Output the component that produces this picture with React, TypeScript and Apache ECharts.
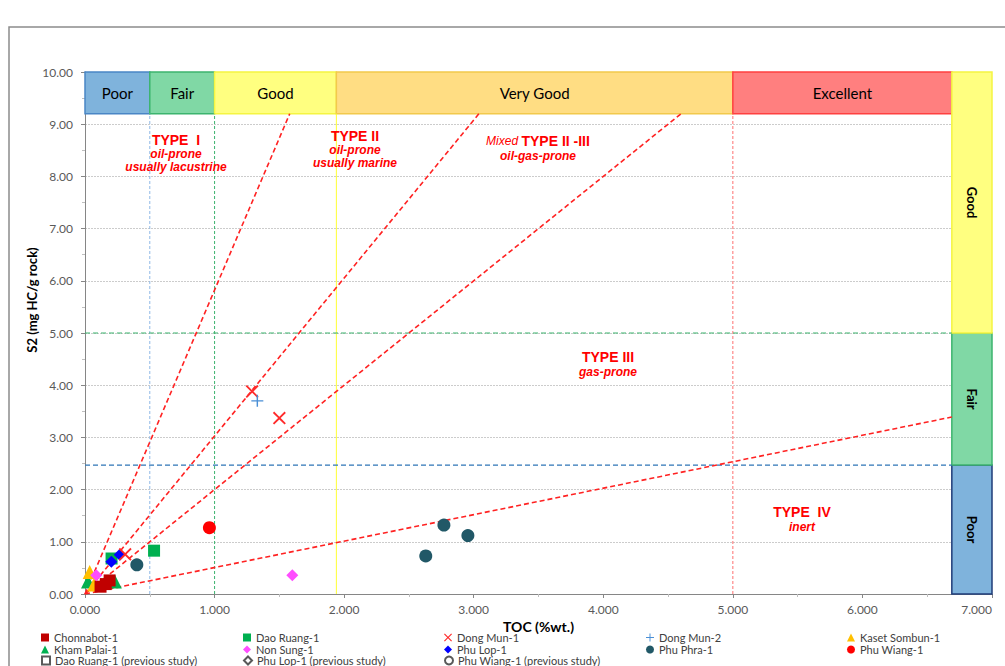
import { useEffect, useRef } from "react";
import * as echarts from "echarts";

// Axis ranges
const TOC_MIN = 0;
const TOC_MAX = 7;
const S2_MIN = 0;
const S2_MAX = 10;

// Generative-potential bands along the TOC axis (top strip)
const tocBandNames = ["Poor", "Fair", "Good", "Very Good", "Excellent"];
const tocBandEdges = [0, 0.5, 1.0, 1.94, 5.0, 6.69];
const tocBandS2 = [9.2, 10];

// Generative-potential bands along the S2 axis (right column)
const s2BandNames = ["Poor", "Fair", "Good"];
const s2BandEdges = [0, 2.47, 5.0, 10];
const s2BandToc = [6.69, 7.0];

// Cut-off guide lines
const tocCutoffs = [0.5, 1.0, 1.94, 5.0];
const s2Cutoffs = [2.47, 5.0];

// Kerogen-type boundary lines (start at the origin)
const kerogenLineEnds = [
  [1.58, 9.2],
  [3.04, 9.2],
  [4.6, 9.2],
  [6.69, 3.39],
];

// Samples: [TOC (%wt.), S2 (mg HC/g rock)]
const chonnabot1 = [[0.12, 0.14], [0.16, 0.19], [0.19, 0.26]];
const daoRuang1 = [[0.205, 0.68], [0.533, 0.83]];
const dongMun1 = [[0.31, 0.76], [1.29, 3.88], [1.5, 3.37]];
const dongMun2 = [[1.33, 3.7]];
const kasetSombun1 = [[0.07, 0.18], [0.036, 0.42]];
const khamPalai1 = [[0.023, 0.24], [0.23, 0.24]];
const nonSung1 = [[0.087, 0.36], [1.6, 0.36]];
const phuLop1 = [[0.203, 0.62], [0.268, 0.75]];
const phuPhra1 = [[0.4, 0.56], [2.63, 0.73], [2.77, 1.32], [2.955, 1.12]];
const phuWiang1 = [[0.96, 1.27]];
const daoRuang1Prev: number[][] = [];
const phuLop1Prev: number[][] = [];
const phuWiang1Prev: number[][] = [];

const legendNames = [
  "Chonnabot-1", "Dao Ruang-1", "Dong Mun-1", "Dong Mun-2", "Kaset Sombun-1",
  "Kham Palai-1", "Non Sung-1", "Phu Lop-1", "Phu Phra-1", "Phu Wiang-1",
  "Dao Ruang-1 (previous study)", "Phu Lop-1 (previous study)", "Phu Wiang-1 (previous study)",
];

const CROSS = "path://M0,1L1,0L5,4L9,0L10,1L6,5L10,9L9,10L5,6L1,10L0,9L4,5Z";
const PLUS = "path://M4.4,0H5.6V4.4H10V5.6H5.6V10H4.4V5.6H0V4.4H4.4Z";

const FONT = "Lato, 'Noto Sans', sans-serif";
const ARIAL = "'Liberation Sans', Arial, sans-serif";

function buildOption() {
  const tocBandFill = ["#7fb3dc", "#80d8a5", "#ffff80", "#ffdd83", "#ff7f7f"];
  const tocBandLine = ["#4a86c5", "#3cb46e", "#f5f542", "#f2c94c", "#ff4040"];
  const s2BandFill = ["#7fb3dc", "#80d8a5", "#ffff80"];
  const s2BandLine = ["#1f3c78", "#3cb46e", "#f5f542"];
  const tocCutoffColors = ["#8fb8e6", "#3cb46e", "#ffff33", "#ff7070"];
  const tocCutoffTypes: any[] = [[3, 2], [3, 2], "solid", [3, 2]];
  const s2CutoffColors = ["#2e75b6", "#3cb46e"];

  const topAreas = tocBandNames.map((name, i) => [
    {
      name,
      xAxis: tocBandEdges[i],
      yAxis: tocBandS2[0],
      itemStyle: { color: tocBandFill[i], borderColor: tocBandLine[i], borderWidth: 1.5 },
    },
    { xAxis: tocBandEdges[i + 1], yAxis: tocBandS2[1] },
  ]);

  const sideAreas = s2BandNames.map((name, i) => [
    {
      name,
      xAxis: s2BandToc[0],
      yAxis: s2BandEdges[i],
      itemStyle: { color: s2BandFill[i], borderColor: s2BandLine[i], borderWidth: 1.5 },
      label: { rotate: -90, fontWeight: "bold", fontSize: 13 },
    },
    { xAxis: s2BandToc[1], yAxis: s2BandEdges[i + 1] },
  ]);

  // Each guide line is a two-point line series
  const guide = (name: string, data: number[][], color: string, type: any, width: number) => ({
    name,
    type: "line",
    data,
    symbol: "none",
    silent: true,
    z: 2,
    lineStyle: { color, type, width },
  });

  const verticalGuides = tocCutoffs.map((x, i) =>
    guide("toc-cutoff-" + i, [[x, S2_MIN], [x, tocBandS2[0]]], tocCutoffColors[i], tocCutoffTypes[i], 1)
  );
  const horizontalGuides = s2Cutoffs.map((y, i) =>
    guide("s2-cutoff-" + i, [[TOC_MIN, y], [s2BandToc[0], y]], s2CutoffColors[i], [5, 3], 1.2)
  );
  const kerogenSeries = kerogenLineEnds.map((end, i) =>
    guide("kerogen-" + i, [[0, 0], end], "#ff2222", [5, 3], 1.6)
  );

  const pointSeries = (name: string, data: number[][], symbol: string, size: number, color: string, extra: any = {}) => ({
    name,
    type: "scatter",
    data,
    symbol,
    symbolSize: size,
    z: 5,
    itemStyle: { color, opacity: 1, ...extra },
  });

  const hollow = { borderColor: "#595959", borderWidth: 0.8 };

  const series: any[] = [
    {
      name: "zones",
      type: "scatter",
      data: [],
      z: 1,
      silent: true,
      markArea: {
        silent: true,
        label: { show: true, position: "inside", color: "#000", fontSize: 15, fontFamily: FONT },
        data: [...topAreas, ...sideAreas],
      },
    },
    ...verticalGuides,
    ...horizontalGuides,
    ...kerogenSeries,
    pointSeries("Kham Palai-1", khamPalai1, "triangle", 14, "#00b050"),
    pointSeries("Kaset Sombun-1", kasetSombun1, "triangle", 14, "#ffc000"),
    pointSeries("Chonnabot-1", chonnabot1, "rect", 12, "#c00000"),
    pointSeries("Dao Ruang-1", daoRuang1, "rect", 12, "#00b050"),
    pointSeries("Non Sung-1", nonSung1, "diamond", 12, "#ff4dff"),
    pointSeries("Phu Lop-1", phuLop1, "diamond", 12, "#0000ff"),
    pointSeries("Phu Phra-1", phuPhra1, "circle", 13, "#215867"),
    pointSeries("Phu Wiang-1", phuWiang1, "circle", 13, "#ff0000"),
    pointSeries("Dong Mun-1", dongMun1, CROSS, 13, "#ff2a2a"),
    pointSeries("Dong Mun-2", dongMun2, PLUS, 12, "#4a8fd6"),
    pointSeries("Dao Ruang-1 (previous study)", daoRuang1Prev, "rect", 12, "#ffffff", hollow),
    pointSeries("Phu Lop-1 (previous study)", phuLop1Prev, "diamond", 12, "#ffffff", hollow),
    pointSeries("Phu Wiang-1 (previous study)", phuWiang1Prev, "circle", 12, "#ffffff", hollow),
  ];

  // Legend laid out as a 5-column grid
  const colX = [41, 243, 444, 646, 847];
  const rowY = [632, 644, 655];
  const legend = legendNames.map((name, i) => ({
    data: [name],
    left: colX[i % 5],
    top: rowY[Math.floor(i / 5)],
    padding: 0,
    itemWidth: 8,
    itemHeight: 8,
    selectedMode: false,
    textStyle: { fontFamily: FONT, fontSize: 11, color: "#404040" },
  }));

  const red = "#ff0000";
  const head = (text: string, x: number, y: number) => ({
    type: "text",
    x,
    y,
    silent: true,
    z: 20,
    style: { text, fill: red, font: `bold 14px ${ARIAL}`, textAlign: "center", textVerticalAlign: "middle" },
  });
  const sub = (text: string, x: number, y: number) => ({
    type: "text",
    x,
    y,
    silent: true,
    z: 20,
    style: { text, fill: red, font: `italic bold 12px ${ARIAL}`, textAlign: "center", textVerticalAlign: "middle" },
  });

  const graphic: any[] = [
    // chart frame
    {
      type: "polyline",
      silent: true,
      shape: { points: [[9, 700], [9, 27], [1010, 27]] },
      style: { stroke: "#8c8c8c", lineWidth: 1.5, fill: "none" },
    },
    head("TYPE  I", 176, 140),
    sub("oil-prone", 176, 154),
    sub("usually lacustrine", 176, 167),
    head("TYPE II", 355, 136),
    sub("oil-prone", 355, 150),
    sub("usually marine", 355, 163),
    {
      type: "text",
      x: 538,
      y: 141,
      silent: true,
      z: 20,
      style: {
        text: "{a|Mixed }{b|TYPE II -III}",
        textAlign: "center",
        textVerticalAlign: "middle",
        rich: {
          a: { fill: red, font: `italic 12px ${ARIAL}` },
          b: { fill: red, font: `bold 14px ${ARIAL}` },
        },
      },
    },
    sub("oil-gas-prone", 538, 156),
    head("TYPE III", 608, 357),
    sub("gas-prone", 608, 372),
    head("TYPE  IV", 802, 512),
    sub("inert", 802, 527),
    {
      type: "text",
      x: 32,
      y: 300,
      rotation: Math.PI / 2,
      silent: true,
      style: {
        text: "S2 (mg HC/g rock)",
        fill: "#000",
        font: `bold 13px ${FONT}`,
        textAlign: "center",
        textVerticalAlign: "middle",
      },
    },
  ];

  return {
    animation: false,
    backgroundColor: "#ffffff",
    grid: { left: 85, right: 13, top: 72, bottom: 72, outerBoundsMode: "none" },
    xAxis: {
      type: "value",
      min: TOC_MIN,
      max: TOC_MAX,
      interval: 1,
      name: "TOC (%wt.)",
      nameLocation: "middle",
      nameGap: 22,
      nameTextStyle: { fontFamily: FONT, fontWeight: "bold", fontSize: 14, color: "#000" },
      axisLine: { lineStyle: { color: "#868686" } },
      axisTick: { show: true, length: 4, lineStyle: { color: "#868686" } },
      minorTick: { show: true, splitNumber: 2, length: 3, lineStyle: { color: "#bfbfbf" } },
      axisLabel: {
        formatter: (v: number) => v.toFixed(3),
        fontFamily: FONT,
        fontSize: 12,
        color: "#595959",
        margin: 9,
        alignMaxLabel: "right",
      },
      splitLine: { show: false },
    },
    yAxis: {
      type: "value",
      min: S2_MIN,
      max: S2_MAX,
      interval: 1,
      axisLine: { show: true, lineStyle: { color: "#868686" } },
      axisTick: { show: true, length: 4, lineStyle: { color: "#868686" } },
      minorTick: { show: true, splitNumber: 2, length: 3, lineStyle: { color: "#bfbfbf" } },
      axisLabel: {
        formatter: (v: number) => v.toFixed(2),
        fontFamily: FONT,
        fontSize: 12,
        color: "#595959",
        margin: 12,
      },
      splitLine: { show: true, lineStyle: { color: "#cccccc", type: [2, 1], width: 1 } },
    },
    legend,
    series,
    graphic,
  };
}

export default function App() {
  const ref = useRef<HTMLDivElement>(null);
  useEffect(() => {
    if (!ref.current) return;
    const chart = echarts.init(ref.current, undefined, { renderer: "svg" });
    chart.setOption(buildOption() as any);
    return () => chart.dispose();
  }, []);
  return (
    <div
      ref={ref}
      style={{ position: "absolute", left: 0, top: 0, width: 1005, height: 666, background: "#fff" }}
    />
  );
}
